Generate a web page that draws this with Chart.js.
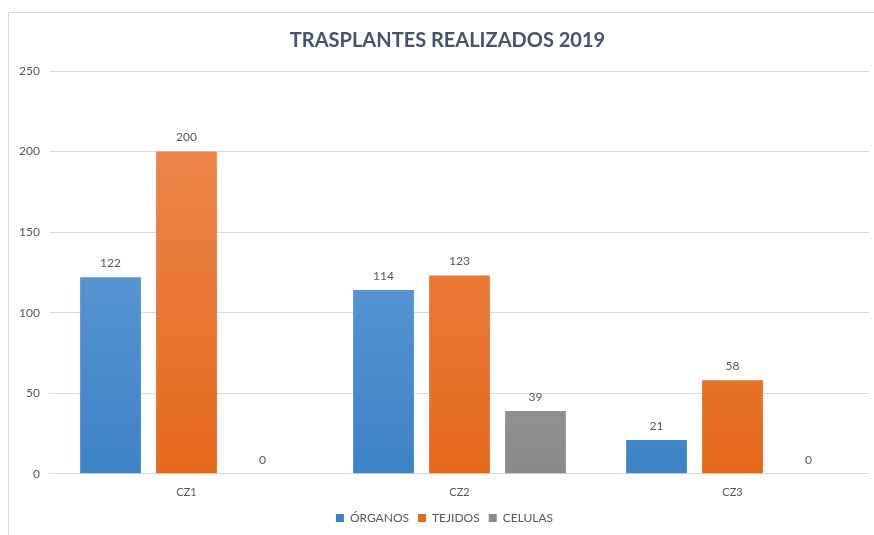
<!DOCTYPE html>
<html>
<head>
<meta charset="utf-8">
<script src="https://cdn.jsdelivr.net/npm/chart.js@4"></script>
<style>
html,body{margin:0;padding:0;background:#fff;}
#wrap{position:relative;width:874px;height:535px;}
</style>
</head>
<body>
<div id="wrap"><canvas id="c" width="874" height="535"></canvas></div>
<script>
const categories = ["CZ1", "CZ2", "CZ3"];
const organos = [122, 114, 21];
const tejidos = [200, 123, 58];
const celulas = [0, 39, 0];
const seriesNames = ["ÓRGANOS", "TEJIDOS", "CELULAS"];
const yTicks = [0, 50, 100, 150, 200, 250];

const FONT = "Lato, 'Open Sans', sans-serif";
const TXT = "#595959";

function grad(top, bottom) {
  return function(ctx) {
    const ch = ctx.chart;
    const a = ch.chartArea;
    if (!a) return bottom;
    const g = ch.ctx.createLinearGradient(0, a.top, 0, a.bottom);
    g.addColorStop(0, top);
    g.addColorStop(1, bottom);
    return g;
  };
}

const borderPlugin = {
  id: 'outerBorder',
  beforeDraw(chart) {
    const c = chart.ctx;
    c.save();
    c.fillStyle = '#fff';
    c.fillRect(0, 0, chart.width, chart.height);
    c.strokeStyle = '#d9d9d9';
    c.lineWidth = 1;
    c.beginPath();
    c.moveTo(8.5, chart.height);
    c.lineTo(8.5, 12.5);
    c.lineTo(chart.width, 12.5);
    c.stroke();
    c.restore();
  }
};

const blockShift = {
  id: 'blockShift',
  afterLayout(chart) {
    if (chart.legend) {
      chart.legend.left += 10;
      chart.legend.right += 10;
    }
    if (chart.titleBlock) {
      chart.titleBlock.left += 13;
      chart.titleBlock.right += 13;
    }
  }
};

const labelPlugin = {
  id: 'valueLabels',
  afterDatasetsDraw(chart) {
    const c = chart.ctx;
    c.save();
    c.font = "12px " + FONT;
    c.fillStyle = TXT;
    c.textAlign = 'center';
    c.textBaseline = 'bottom';
    chart.data.datasets.forEach((ds, i) => {
      const meta = chart.getDatasetMeta(i);
      meta.data.forEach((bar, j) => {
        c.fillText(String(ds.data[j]), bar.x, bar.y - 8);
      });
    });
    c.restore();
  }
};

new Chart(document.getElementById('c'), {
  type: 'bar',
  data: {
    labels: categories,
    datasets: [
      { label: seriesNames[0], data: organos, backgroundColor: grad('#70a6dd', '#3e82c6') },
      { label: seriesNames[1], data: tejidos, backgroundColor: grad('#f08b55', '#e4691b') },
      { label: seriesNames[2], data: celulas, backgroundColor: grad('#b3b3b3', '#8a8a8a') }
    ]
  },
  options: {
    responsive: false,
    animation: false,
    devicePixelRatio: 1,
    layout: { padding: { left: 0, right: 5, top: 19, bottom: 1 } },
    datasets: { bar: { categoryPercentage: 0.835, barPercentage: 0.80 } },
    plugins: {
      title: {
        display: true,
        text: 'TRASPLANTES REALIZADOS 2019',
        color: '#44546a',
        font: { family: FONT, size: 20, weight: 'bold' },
        padding: { top: 10, bottom: 18 }
      },
      legend: {
        position: 'bottom',
        labels: {
          boxWidth: 8, boxHeight: 8, color: TXT,
          font: { family: FONT, size: 12 },
          padding: 9
        }
      },
      tooltip: { enabled: false }
    },
    scales: {
      x: {
        grid: { display: false },
        border: { display: false },
        ticks: { color: TXT, font: { family: FONT, size: 11 }, padding: 4 }
      },
      y: {
        min: 0, max: 250,
        afterFit(scale) { scale.width = 50; },
        afterBuildTicks(scale) { scale.ticks = yTicks.map(v => ({ value: v })); },
        grid: { color: '#d9d9d9', drawTicks: false },
        border: { display: false },
        ticks: { color: TXT, font: { family: FONT, size: 12 }, padding: 10 }
      }
    }
  },
  plugins: [borderPlugin, blockShift, labelPlugin]
});
</script>
</body>
</html>
